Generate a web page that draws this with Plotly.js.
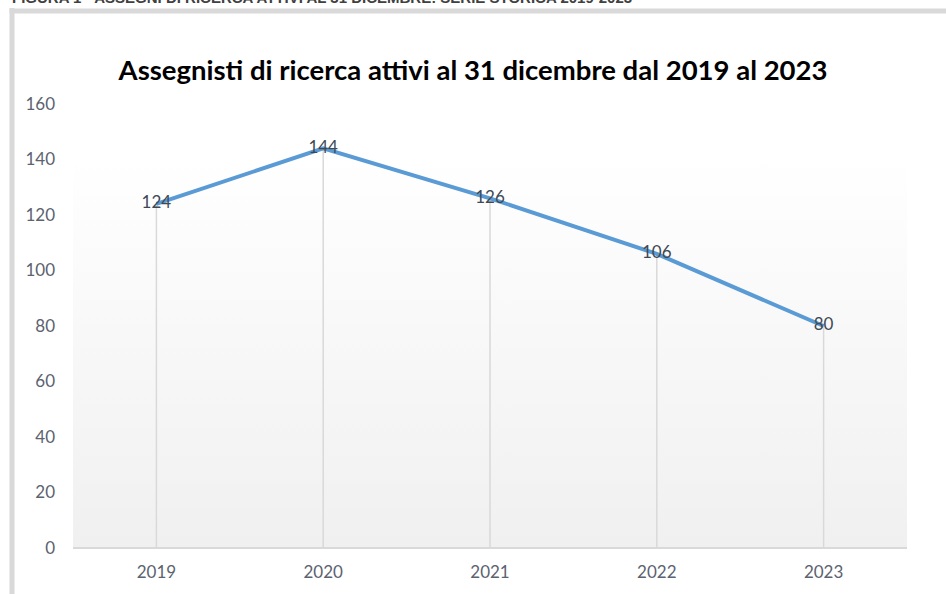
<!DOCTYPE html>
<html><head><meta charset="utf-8">
<script src="https://cdn.plot.ly/plotly-3.0.1.min.js"></script>
<style>html,body{margin:0;padding:0;background:#fff;}#chart{width:946px;height:594px;}</style>
</head><body><div id="chart"></div>
<script>
const years = ['2019','2020','2021','2022','2023'];
const assegnisti = [124, 144, 126, 106, 80];
const yTicks = [0,20,40,60,80,100,120,140,160];
const titleText = 'Assegnisti di ricerca attivi al 31 dicembre dal 2019 al 2023';
const captionText = 'FIGURA 1 - ASSEGNI DI RICERCA ATTIVI AL 31 DICEMBRE: SERIE STORICA 2019-2023';

const font = 'Lato, Carlito, Calibri, "Open Sans", sans-serif';
const gradSvg = '<svg xmlns="http://www.w3.org/2000/svg" width="100" height="100" preserveAspectRatio="none"><defs><linearGradient id="g" x1="0" y1="0" x2="0" y2="1"><stop offset="0" stop-color="#ffffff"/><stop offset="1" stop-color="#f0f0f0"/></linearGradient></defs><rect width="100" height="100" fill="url(#g)"/></svg>';

const trace = {
  x: years, y: assegnisti, type: 'scatter', mode: 'lines+text',
  text: assegnisti.map(String), textposition: 'middle center',
  textfont: {family: font, size: 17, color: '#404854'},
  line: {color: '#5b9bd5', width: 4},
  error_y: {type: 'data', symmetric: false, array: assegnisti.map(()=>0), arrayminus: assegnisti,
            color: '#d9d9d9', thickness: 1.5, width: 0},
  hoverinfo: 'x+y'
};

const layout = {
  width: 946, height: 594,
  margin: {l: 73, r: 39, t: 104, b: 46},
  paper_bgcolor: '#ffffff', plot_bgcolor: 'rgba(0,0,0,0)',
  showlegend: false,
  title: {text: titleText, font: {family: font, size: 27.5, color: '#000000', weight: 'bold'},
          x: 0.5, xanchor: 'center', y: 1 - 70/594, yanchor: 'middle'},
  xaxis: {type: 'category', range: [-0.5, 4.5], showgrid: false, zeroline: false,
          showline: false, ticks: '', ticklabelstandoff: 12,
          tickfont: {family: font, size: 17, color: '#5b6270'}},
  yaxis: {range: [0, 160], tickvals: yTicks, showgrid: false, zeroline: true,
          zerolinecolor: '#d9d9d9', zerolinewidth: 1.5, showline: false, ticks: '',
          ticklabelstandoff: 17, tickfont: {family: font, size: 17, color: '#5b6270'}},
  images: [{source: 'data:image/svg+xml;base64,' + btoa(gradSvg), xref: 'paper', yref: 'y',
            x: 0, y: 142, sizex: 1, sizey: 142, sizing: 'stretch', layer: 'below',
            xanchor: 'left', yanchor: 'top'}],
  shapes: [
    {type: 'line', xref: 'paper', yref: 'paper', x0: -61/834, x1: -61/834, y0: (548-8)/444, y1: (548-600)/444,
     line: {color: '#d9d9d9', width: 5}},
    {type: 'line', xref: 'paper', yref: 'paper', x0: -63.5/834, x1: (960-73)/834, y0: (548-11)/444, y1: (548-11)/444,
     line: {color: '#d9d9d9', width: 5}}
  ],
  annotations: [{text: '<b>' + captionText + '</b>', xref: 'paper', yref: 'paper',
                 x: -63/834, xanchor: 'left', y: (548-8)/444, yanchor: 'bottom', showarrow: false,
                 font: {family: 'Liberation Sans, Arial, sans-serif', size: 15, color: '#404040'}}]
};

Plotly.newPlot('chart', [trace], layout, {displayModeBar: false, staticPlot: true});
</script></body></html>
